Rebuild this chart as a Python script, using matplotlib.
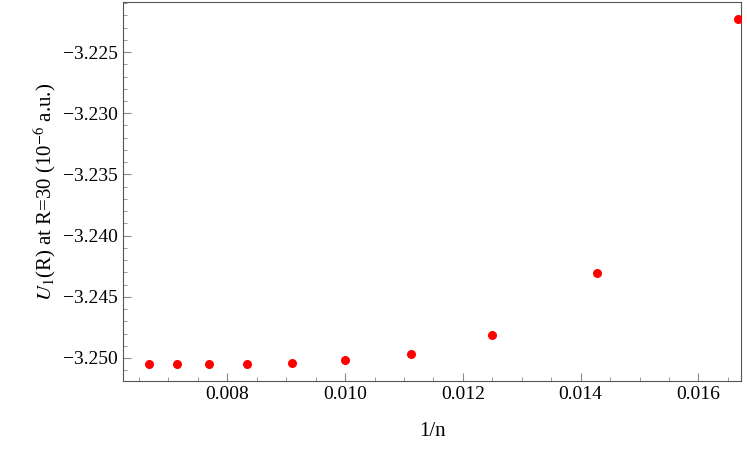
import matplotlib
matplotlib.use("Agg")
import matplotlib.pyplot as plt
from matplotlib.ticker import MultipleLocator

n_vals = [150, 140, 130, 120, 110, 100, 90, 80, 70, 60]
x_vals = [1.0 / n for n in n_vals]
u_vals = [-3.25049, -3.25050, -3.25050, -3.25049, -3.25041, -3.25016, -3.24967, -3.24812, -3.24307, -3.22230]

plt.rcParams['font.family'] = ['Liberation Serif', 'DejaVu Serif']
plt.rcParams['mathtext.fontset'] = 'stix'
fig = plt.figure(figsize=(7.47, 4.62), dpi=100)
ax = fig.add_axes([123/747, 1-381/462, (741-123)/747, (381-2)/462])
ax.scatter(x_vals, u_vals, s=30, color='red', zorder=3)
ax.set_xlim(0.00623, 0.016722)
ax.set_ylim(-3.25188, -3.22091)
ax.xaxis.set_major_locator(MultipleLocator(0.002))
ax.xaxis.set_minor_locator(MultipleLocator(0.0005))
ax.yaxis.set_major_locator(MultipleLocator(0.005))
ax.yaxis.set_minor_locator(MultipleLocator(0.001))
ax.xaxis.set_major_formatter(matplotlib.ticker.FuncFormatter(lambda v, p: f"{v:.3f}"))
ax.yaxis.set_major_formatter(matplotlib.ticker.FuncFormatter(lambda v, p: f"\u2212{abs(v):.3f}"))
ax.tick_params(which='both', direction='in', top=False, right=False, labelsize=14, color='#888888')
ax.tick_params(which='major', length=6)
ax.tick_params(which='minor', length=3)
for s in ax.spines.values():
    s.set_color('#555555')
ax.set_xlabel('1/n', fontsize=15, labelpad=14)
ax.set_ylabel(r'$U_1$(R) at R=30 (10$^{-6}$ a.u.)', fontsize=15)
fig.savefig('out.png', dpi=100)
